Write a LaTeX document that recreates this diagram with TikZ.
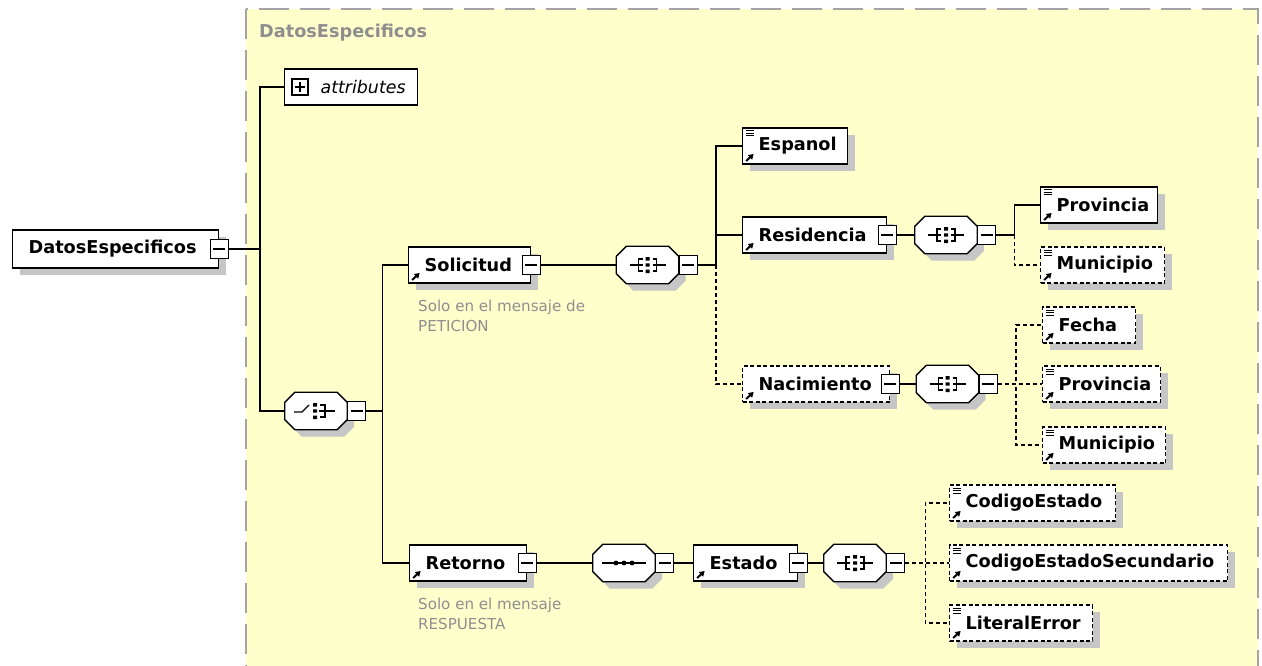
\documentclass[tikz,border=0pt]{standalone}
\usepackage{fontspec}
\setmainfont{DejaVu Sans}
\usetikzlibrary{calc,shadows,arrows.meta}
\definecolor{panel}{HTML}{FFFFCC}
\definecolor{frame}{HTML}{A4A4A4}
\definecolor{muted}{HTML}{8E8E8E}
\definecolor{shadowgray}{HTML}{C6C6C6}
\newcommand{\elfont}{\fontsize{17.7}{21}\selectfont\bfseries}
\newcommand{\notefont}{\fontsize{15.1}{20}\selectfont}
\newcommand{\RefArrow}{%
  % small reference arrow, bottom left corner
  \draw[solid, draw=black, fill=black, line width=2pt, -{Triangle[length=5pt,width=6pt]}]
    ([xshift=3.5pt,yshift=3pt]path picture bounding box.south west) -- ++(7.5pt,7pt);}
\newcommand{\TypeLines}{%
  % three short lines, top left corner
  \draw[solid, draw=black, line width=1pt]
    ([xshift=3pt,yshift=-3pt]path picture bounding box.north west) -- ++(8pt,0pt)
    ([xshift=3pt,yshift=-5.5pt]path picture bounding box.north west) -- ++(8pt,0pt)
    ([xshift=3pt,yshift=-8pt]path picture bounding box.north west) -- ++(8pt,0pt);}
\newcommand{\OctPath}[3]{% #1 = node, #2,#3 = offset
  ($(#1.north west)+(10+#2,#3)$) -- ($(#1.north east)+(-10+#2,#3)$)
  -- ($(#1.north east)+(#2,10+#3)$) -- ($(#1.south east)+(#2,-10+#3)$)
  -- ($(#1.south east)+(-10+#2,#3)$) -- ($(#1.south west)+(10+#2,#3)$)
  -- ($(#1.south west)+(#2,-10+#3)$) -- ($(#1.north west)+(#2,10+#3)$) -- cycle}
\newcommand{\Compositor}[2]{% #1 = node, #2 = icon
  \fill[fill=shadowgray] \OctPath{#1}{7}{7};
  \filldraw[fill=white, draw=black, line width=1.3pt] \OctPath{#1}{0}{0};
  \begin{scope}[shift={(#1.center)}, line width=1.3pt]
    #2
  \end{scope}}
\newcommand{\AllIcon}{%
  \draw (-18,0) -- (-5,0) (-5,-6) -| (-9,6) -- (-5,6);
  \draw (18,0) -- (5,0) (5,-6) -| (9,6) -- (5,6);
  \fill[black] (-2,-8) rectangle (2,-4.5) (-2,-1.7) rectangle (2,1.7) (-2,4.5) rectangle (2,8);}
\newcommand{\ChoiceIcon}{%
  \draw (-22,1) -- (-14,1) -- (-7,-6);
  \draw (4,-6) -- (9,-6) -- (9,6) -- (4,6) (3,0) -- (19,0);
  \fill[black] (-3,-8) rectangle (1,-4.5) (-3,-1.7) rectangle (1,1.7) (-3,4.5) rectangle (1,8);}
\newcommand{\SeqIcon}{%
  \draw (-22,0) -- (22,0);
  \fill[black] (-8,0) circle (2.4) (0,0) circle (2.4) (8,0) circle (2.4);}
\tikzset{
  conn/.style={draw=black, line width=1.5pt},
  optline/.style={dash pattern=on 4pt off 3pt},
  dropsh/.style={drop shadow={shadow xshift=7pt, shadow yshift=-7pt, fill=shadowgray, opacity=1}},
  elem/.style={draw=black, line width=1.3pt, fill=white, minimum height=36pt, inner sep=0pt,
    text width=#1, align=left, anchor=west, font=\elfont, dropsh,
    execute at begin node=\hspace*{16pt}},
  optel/.style={dash pattern=on 4pt off 2.5pt},
  refel/.style={path picture={\RefArrow}},
  simpel/.style={path picture={\RefArrow\TypeLines}},
  minus/.style={draw=black, solid, line width=1.1pt, fill=white, minimum width=18pt,
    minimum height=19pt, inner sep=0pt,
    path picture={\draw[draw=black, line width=1.1pt] ([xshift=3pt]path picture bounding box.west)
      -- ([xshift=-3pt]path picture bounding box.east);}},
  plus/.style={minus, minimum width=16pt, minimum height=16pt,
    path picture={\draw[draw=black, line width=1.1pt] ([xshift=3pt]path picture bounding box.west)
      -- ([xshift=-3pt]path picture bounding box.east)
      ([yshift=-3pt]path picture bounding box.north) -- ([yshift=3pt]path picture bounding box.south);}},
  comp/.style={minimum width=62pt, minimum height=37pt, inner sep=0pt},
  note/.style={text=muted, font=\notefont, align=left, anchor=north west, inner sep=0pt},
  hdr/.style={text=muted, font=\elfont, anchor=west, inner sep=0pt}
}

\begin{document}
\begin{tikzpicture}[x=1pt, y=-1pt, line cap=butt, line join=miter]
  \useasboundingbox (0,0) rectangle (1262,666);
  % container
  \draw[frame, line width=2pt, dash pattern=on 30pt off 11pt, fill=panel] (246,9) rectangle (1258,720);
  \node[hdr] (Hdr) at (259,33) {DatosEspecificos};

  % root and first level
  \node[elem=206pt, minimum height=38pt] (Root) at (12,249) {DatosEspecificos};
  \node[minus] (RootM) at (Root.east) {};
  \node[draw=black, line width=1.3pt, fill=white, minimum width=133pt, minimum height=36pt,
    inner sep=0pt, anchor=west, font=\fontsize{17.4}{21}\selectfont\itshape,
    text width=133pt, align=left, execute at begin node=\hspace*{36pt}] (Attr) at (284,87) {attributes};
  \node[plus] (AttrP) at (300,87) {};
  \node[comp] (Choice) at (316,411) {};
  \Compositor{Choice}{\ChoiceIcon}
  \node[minus, anchor=west] (ChoiceM) at (Choice.east) {};

  % Solicitud
  \node[elem=122pt, refel] (Solicitud) at (408,265) {Solicitud};
  \node[minus] (SolicitudM) at (Solicitud.east) {};
  \node[note] (SolNote) at (418,300) {Solo en el mensaje de\\PETICION};
  \node[comp] (SolAll) at (647.5,265) {};
  \Compositor{SolAll}{\AllIcon}
  \node[minus, anchor=west] (SolAllM) at (SolAll.east) {};
  \node[elem=105pt, simpel] (Espanol) at (742,146) {Espanol};
  \node[elem=144pt, refel] (Residencia) at (742,235) {Residencia};
  \node[minus] (ResidenciaM) at (Residencia.east) {};
  \node[elem=147pt, refel, optel] (Nacimiento) at (742,384) {Nacimiento};
  \node[minus] (NacimientoM) at (Nacimiento.east) {};
  \node[comp] (ResAll) at (946,235) {};
  \Compositor{ResAll}{\AllIcon}
  \node[minus, anchor=west] (ResAllM) at (ResAll.east) {};
  \node[elem=117pt, simpel] (ResProv) at (1040,205) {Provincia};
  \node[elem=124pt, simpel, optel] (ResMun) at (1040,265) {Municipio};
  \node[comp] (NacAll) at (947.5,384) {};
  \Compositor{NacAll}{\AllIcon}
  \node[minus, anchor=west] (NacAllM) at (NacAll.east) {};
  \node[elem=93pt, simpel, optel] (NacFecha) at (1042,325) {Fecha};
  \node[elem=118pt, simpel, optel] (NacProv) at (1042,384) {Provincia};
  \node[elem=123pt, simpel, optel] (NacMun) at (1042,445) {Municipio};

  % Retorno
  \node[elem=117pt, refel] (Retorno) at (409,563) {Retorno};
  \node[minus] (RetornoM) at (Retorno.east) {};
  \node[note] (RetNote) at (418,598) {Solo en el mensaje\\RESPUESTA};
  \node[comp] (RetSeq) at (624,563) {};
  \Compositor{RetSeq}{\SeqIcon}
  \node[minus, anchor=west] (RetSeqM) at (RetSeq.east) {};
  \node[elem=104pt, refel] (Estado) at (693,563) {Estado};
  \node[minus] (EstadoM) at (Estado.east) {};
  \node[comp] (EstAll) at (855,563) {};
  \Compositor{EstAll}{\AllIcon}
  \node[minus, anchor=west] (EstAllM) at (EstAll.east) {};
  \node[elem=166pt, simpel, optel] (CodEst) at (949,503) {CodigoEstado};
  \node[elem=278pt, simpel, optel] (CodEstSec) at (949,563) {CodigoEstadoSecundario};
  \node[elem=143pt, simpel, optel] (LitErr) at (949,623) {LiteralError};

  % connectors
  \draw[conn] (RootM.east) -- ++(31,0) |- (Attr.west);
  \draw[conn] (RootM.east) -- ++(31,0) |- (Choice.west);
  \draw[conn] (ChoiceM.east) -- ++(16,0) |- (Solicitud.west);
  \draw[conn] (ChoiceM.east) -- ++(16,0) |- (Retorno.west);
  \draw[conn] (SolicitudM.east) -- (SolAll.west);
  \draw[conn] (SolAllM.east) -- ++(18,0) |- (Espanol.west);
  \draw[conn] (SolAllM.east) -- ++(18,0) |- (Residencia.west);
  \draw[conn, optline] ($(SolAllM.east)+(18,0)$) |- (Nacimiento.west);
  \draw[conn] (ResidenciaM.east) -- (ResAll.west);
  \draw[conn] (ResAllM.east) -- ++(18,0) |- (ResProv.west);
  \draw[conn, optline] ($(ResAllM.east)+(18,0)$) |- (ResMun.west);
  \draw[conn] (NacimientoM.east) -- (NacAll.west);
  \draw[conn, optline] (NacAllM.east) -- ++(18,0) |- (NacFecha.west);
  \draw[conn, optline] (NacAllM.east) -- (NacProv.west);
  \draw[conn, optline] (NacAllM.east) -- ++(18,0) |- (NacMun.west);
  \draw[conn] (RetornoM.east) -- (RetSeq.west);
  \draw[conn] (RetSeqM.east) -- (Estado.west);
  \draw[conn] (EstadoM.east) -- (EstAll.west);
  \draw[conn, optline] (EstAllM.east) -- ++(20,0) |- (CodEst.west);
  \draw[conn, optline] (EstAllM.east) -- (CodEstSec.west);
  \draw[conn, optline] (EstAllM.east) -- ++(20,0) |- (LitErr.west);
\end{tikzpicture}
\end{document}
